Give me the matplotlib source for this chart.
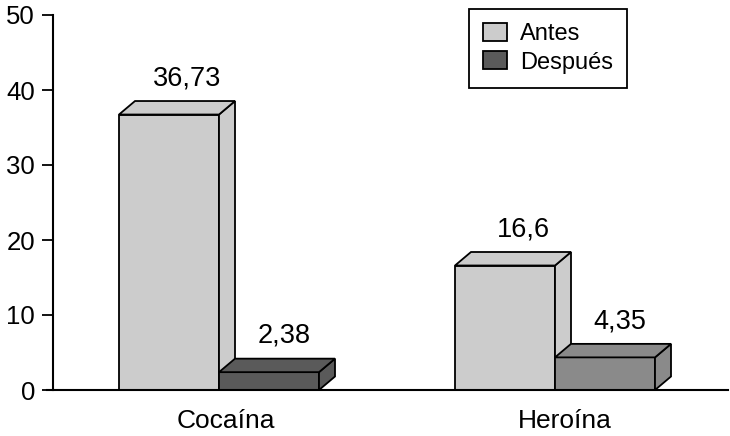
import numpy as np
import matplotlib.pyplot as plt
from matplotlib.patches import Polygon, Patch

plt.rcParams['font.family'] = ['Liberation Sans', 'DejaVu Sans']

categorias = ['Cocaína', 'Heroína']
antes = [36.73, 16.6]
despues = [2.38, 4.35]
etiquetas_antes = ['36,73', '16,6']
etiquetas_despues = ['2,38', '4,35']

col_antes = '#cccccc'
col_despues = ['#5a5a5a', '#8a8a8a']

fig = plt.figure(figsize=(7.3, 4.36), dpi=100)
ax = fig.add_axes([53/730, 46/436, 675/730, 375/436])
ax.set_xlim(0, 6.75)
ax.set_ylim(0, 50)

w = 1.0
dx, dy = 0.16, 1.8
inicio = [0.66, 4.02]


def barra3d(x0, h, color):
    ax.bar(x0, h, width=w, align='edge', color=color, edgecolor='black',
           linewidth=1.3, zorder=3)
    lado = [(x0 + w, 0), (x0 + w + dx, dy), (x0 + w + dx, h + dy), (x0 + w, h)]
    tapa = [(x0, h), (x0 + dx, h + dy), (x0 + w + dx, h + dy), (x0 + w, h)]
    for pts in (lado, tapa):
        ax.add_patch(Polygon(pts, closed=True, facecolor=color, edgecolor='black',
                             linewidth=1.3, zorder=3, clip_on=False))


for i in range(len(categorias)):
    x0 = inicio[i]
    barra3d(x0, antes[i], col_antes)
    ax.annotate(etiquetas_antes[i], (x0 + w / 2 + 0.18, antes[i] + dy),
                xytext=(0, 7), textcoords='offset points', ha='center',
                va='bottom', fontsize=19.5)
    x1 = x0 + w
    barra3d(x1, despues[i], col_despues[i])
    ax.annotate(etiquetas_despues[i], (x1 + w / 2 + 0.15, despues[i] + dy),
                xytext=(0, 7), textcoords='offset points', ha='center',
                va='bottom', fontsize=19.5)

ax.plot([-0.06, 6.75], [0, 0], color='black', linewidth=1.5, clip_on=False, zorder=4)

for s in ['top', 'right', 'bottom']:
    ax.spines[s].set_visible(False)
ax.spines['left'].set_linewidth(1.5)

ax.set_yticks([0, 10, 20, 30, 40, 50])
ax.tick_params(axis='y', length=8, width=1.3, labelsize=18.5, pad=5)
ax.set_xticks([inicio[0] + w + 0.07, inicio[1] + w + 0.1])
ax.set_xticklabels(categorias)
ax.tick_params(axis='x', length=0, labelsize=19, pad=14)

handles = [Patch(facecolor=col_antes, edgecolor='black', linewidth=1.3, label='Antes'),
           Patch(facecolor=col_despues[0], edgecolor='black', linewidth=1.3, label='Después')]
leg = fig.legend(handles=handles, loc='upper left', bbox_to_anchor=(469/730, 1 - 9/436),
                 fontsize=17, fancybox=False, edgecolor='black', framealpha=1,
                 handlelength=1.0, handleheight=0.8, handletextpad=0.55,
                 borderpad=0.6, labelspacing=0.25, borderaxespad=0)
leg.get_frame().set_linewidth(1.3)

fig.savefig('out.png', dpi=100)
